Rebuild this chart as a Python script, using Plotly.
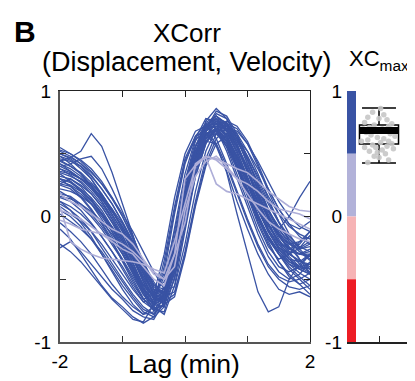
import plotly.graph_objects as go

# ---------------- data ----------------
lags = [-2.0, -1.833, -1.667, -1.5, -1.333, -1.167, -1.0, -0.833, -0.667, -0.5, -0.333, -0.167,
        0.0, 0.167, 0.333, 0.5, 0.667, 0.833, 1.0, 1.167, 1.333, 1.5, 1.667, 1.833, 2.0]

blue_curves = [
    # early / fast-decaying
    [0.30,0.24,0.16,0.06,-0.06,-0.20,-0.36,-0.52,-0.66,-0.62,-0.30,0.15,0.50,0.68,0.72,0.62,0.42,0.20,-0.02,-0.22,-0.38,-0.48,-0.52,-0.50,-0.45],
    [0.48,0.42,0.34,0.24,0.12,-0.02,-0.18,-0.36,-0.55,-0.64,-0.45,0.02,0.42,0.64,0.74,0.70,0.52,0.30,0.08,-0.14,-0.32,-0.44,-0.50,-0.46,-0.36],
    [0.12,0.05,-0.05,-0.16,-0.30,-0.44,-0.58,-0.70,-0.78,-0.72,-0.40,0.05,0.44,0.62,0.66,0.56,0.36,0.12,-0.10,-0.30,-0.46,-0.58,-0.62,-0.60,-0.64],
    [0.38,0.33,0.27,0.18,0.08,-0.04,-0.18,-0.34,-0.52,-0.66,-0.60,-0.22,0.28,0.60,0.74,0.70,0.55,0.34,0.12,-0.10,-0.28,-0.40,-0.44,-0.40,-0.30],
    [0.20,0.15,0.08,0.00,-0.10,-0.22,-0.35,-0.50,-0.65,-0.75,-0.70,-0.32,0.10,0.42,0.60,0.58,0.35,0.02,-0.30,-0.60,-0.76,-0.72,-0.50,-0.38,-0.30],
    [-0.22,-0.28,-0.36,-0.46,-0.56,-0.66,-0.74,-0.82,-0.84,-0.70,-0.35,0.08,0.46,0.64,0.68,0.58,0.40,0.18,-0.04,-0.24,-0.40,-0.50,-0.56,-0.58,-0.55],
    # typical
    [0.52,0.48,0.42,0.33,0.22,0.10,-0.05,-0.22,-0.45,-0.62,-0.58,-0.20,0.18,0.50,0.70,0.78,0.70,0.55,0.35,0.15,-0.02,-0.15,-0.25,-0.30,-0.28],
    [0.44,0.47,0.52,0.66,0.56,0.35,0.10,-0.15,-0.42,-0.62,-0.60,-0.22,0.20,0.52,0.72,0.80,0.72,0.56,0.38,0.18,0.00,-0.14,-0.22,-0.26,-0.22],
    [-0.10,-0.18,-0.30,-0.42,-0.55,-0.65,-0.72,-0.80,-0.85,-0.80,-0.62,-0.25,0.15,0.45,0.65,0.70,0.62,0.45,0.25,0.05,-0.10,-0.22,-0.30,-0.35,-0.40],
    [-0.25,-0.20,-0.28,-0.38,-0.48,-0.58,-0.66,-0.75,-0.80,-0.82,-0.68,-0.30,0.10,0.42,0.62,0.68,0.60,0.42,0.20,0.00,-0.15,-0.28,-0.38,-0.45,-0.50],
    [0.40,0.36,0.30,0.22,0.12,0.00,-0.15,-0.32,-0.52,-0.70,-0.72,-0.35,0.10,0.50,0.76,0.86,0.78,0.62,0.42,0.20,0.00,-0.15,-0.25,-0.30,-0.32],
    [0.45,0.40,0.34,0.25,0.15,0.02,-0.12,-0.30,-0.50,-0.66,-0.65,-0.28,0.15,0.48,0.70,0.76,0.68,0.52,0.30,0.10,-0.08,-0.10,0.00,0.15,0.28],
    [0.55,0.50,0.45,0.38,0.28,0.15,0.00,-0.18,-0.40,-0.58,-0.60,-0.25,0.20,0.55,0.75,0.80,0.74,0.60,0.45,0.25,0.05,-0.10,-0.20,-0.28,-0.32],
    [0.10,0.05,-0.02,-0.12,-0.25,-0.38,-0.50,-0.62,-0.72,-0.78,-0.70,-0.38,0.05,0.40,0.62,0.70,0.66,0.52,0.32,0.12,-0.05,-0.20,-0.32,-0.40,-0.45],
    [0.25,0.22,0.15,0.05,-0.05,-0.18,-0.30,-0.45,-0.60,-0.70,-0.65,-0.30,0.12,0.48,0.68,0.74,0.65,0.48,0.28,0.08,-0.10,-0.24,-0.34,-0.40,-0.42],
    [0.05,0.00,-0.08,-0.18,-0.30,-0.42,-0.55,-0.66,-0.76,-0.80,-0.72,-0.40,0.02,0.38,0.60,0.66,0.58,0.40,0.18,-0.02,-0.18,-0.30,-0.40,-0.48,-0.55],
    [0.32,0.30,0.25,0.18,0.08,-0.05,-0.20,-0.38,-0.56,-0.68,-0.62,-0.22,0.22,0.56,0.74,0.78,0.68,0.50,0.28,0.06,-0.12,-0.26,-0.36,-0.40,-0.38],
    [0.15,0.12,0.05,-0.05,-0.16,-0.28,-0.42,-0.56,-0.68,-0.74,-0.66,-0.30,0.12,0.46,0.66,0.70,0.60,0.42,0.22,0.02,-0.16,-0.30,-0.42,-0.50,-0.58],
    [0.50,0.46,0.40,0.32,0.22,0.10,-0.04,-0.20,-0.38,-0.55,-0.58,-0.30,0.12,0.48,0.72,0.80,0.74,0.58,0.36,0.16,-0.02,-0.16,-0.26,-0.30,-0.30],
    [0.38,0.35,0.30,0.22,0.14,0.04,-0.08,-0.24,-0.42,-0.58,-0.62,-0.32,0.14,0.50,0.72,0.74,0.64,0.46,0.25,0.05,-0.12,-0.25,-0.30,-0.25,-0.15],
    [-0.05,-0.12,-0.20,-0.30,-0.42,-0.54,-0.64,-0.72,-0.78,-0.76,-0.60,-0.24,0.18,0.48,0.66,0.68,0.58,0.40,0.20,0.00,-0.16,-0.28,-0.36,-0.42,-0.46],
    [0.18,0.16,0.10,0.02,-0.08,-0.20,-0.34,-0.48,-0.62,-0.70,-0.60,-0.24,0.18,0.52,0.70,0.72,0.60,0.40,0.18,-0.04,-0.22,-0.36,-0.46,-0.54,-0.62],
    [0.26,0.24,0.18,0.10,0.00,-0.12,-0.26,-0.42,-0.58,-0.68,-0.64,-0.28,0.16,0.50,0.70,0.76,0.70,0.56,0.36,0.14,-0.06,-0.20,-0.28,-0.30,-0.26],
    [0.12,0.08,0.02,-0.06,-0.16,-0.28,-0.40,-0.54,-0.66,-0.72,-0.62,-0.26,0.14,0.46,0.64,0.66,0.56,0.38,0.18,-0.02,-0.18,-0.30,-0.38,-0.42,-0.40],
    [0.40,0.42,0.46,0.48,0.38,0.22,0.04,-0.16,-0.38,-0.56,-0.60,-0.30,0.12,0.46,0.68,0.74,0.68,0.54,0.36,0.18,0.00,-0.14,-0.22,-0.20,-0.12],
    [0.30,0.27,0.21,0.13,0.03,-0.09,-0.24,-0.40,-0.57,-0.68,-0.64,-0.30,0.14,0.50,0.72,0.78,0.72,0.58,0.38,0.18,-0.02,-0.18,-0.30,-0.36,-0.38],
    # late / broad
    [0.30,0.28,0.22,0.15,0.05,-0.08,-0.22,-0.40,-0.58,-0.72,-0.78,-0.55,-0.10,0.32,0.58,0.72,0.70,0.60,0.45,0.28,0.10,-0.05,-0.18,-0.28,-0.35],
    [0.35,0.32,0.28,0.20,0.10,-0.02,-0.16,-0.32,-0.50,-0.64,-0.70,-0.45,0.00,0.40,0.64,0.76,0.74,0.64,0.48,0.30,0.12,-0.04,-0.16,-0.24,-0.28],
    [0.48,0.45,0.38,0.30,0.18,0.05,-0.10,-0.28,-0.48,-0.65,-0.68,-0.40,0.05,0.44,0.68,0.78,0.75,0.62,0.42,0.22,0.02,-0.14,-0.28,-0.38,-0.44],
    [0.42,0.38,0.32,0.24,0.14,0.02,-0.12,-0.28,-0.46,-0.62,-0.66,-0.36,0.08,0.46,0.70,0.82,0.78,0.64,0.46,0.26,0.06,-0.10,-0.22,-0.26,-0.24],
    [0.28,0.25,0.20,0.12,0.02,-0.10,-0.25,-0.42,-0.60,-0.74,-0.76,-0.48,-0.05,0.35,0.60,0.70,0.68,0.56,0.40,0.22,0.05,-0.08,-0.18,-0.25,-0.20],
    [0.53,0.50,0.44,0.36,0.26,0.14,0.00,-0.16,-0.36,-0.54,-0.62,-0.42,0.02,0.40,0.64,0.74,0.72,0.62,0.48,0.32,0.16,0.02,-0.08,-0.14,-0.18],
    [0.44,0.40,0.35,0.27,0.17,0.05,-0.10,-0.26,-0.45,-0.63,-0.70,-0.50,-0.08,0.32,0.58,0.70,0.72,0.66,0.52,0.34,0.14,-0.04,-0.20,-0.34,-0.46],
    [0.36,0.34,0.30,0.24,0.16,0.06,-0.06,-0.20,-0.36,-0.52,-0.64,-0.60,-0.30,0.10,0.42,0.62,0.70,0.68,0.58,0.44,0.28,0.12,0.00,-0.08,-0.12],
    [0.22,0.20,0.16,0.10,0.02,-0.08,-0.20,-0.34,-0.48,-0.60,-0.68,-0.62,-0.28,0.12,0.46,0.66,0.74,0.70,0.58,0.40,0.20,0.02,-0.14,-0.26,-0.34],
    [0.50,0.47,0.42,0.35,0.26,0.15,0.02,-0.12,-0.28,-0.44,-0.58,-0.56,-0.22,0.20,0.52,0.70,0.76,0.72,0.60,0.42,0.22,0.06,-0.06,-0.10,-0.04],
    [0.16,0.14,0.10,0.04,-0.04,-0.14,-0.26,-0.40,-0.54,-0.64,-0.70,-0.64,-0.32,0.08,0.40,0.58,0.64,0.62,0.52,0.38,0.22,0.06,-0.06,-0.16,-0.22],
    # irregular
    [0.42,0.36,0.30,0.26,0.18,0.06,-0.10,-0.26,-0.44,-0.60,-0.52,-0.10,0.34,0.62,0.78,0.76,0.62,0.46,0.30,0.12,-0.06,-0.22,-0.34,-0.42,-0.46],
    [0.26,0.30,0.24,0.14,0.02,-0.12,-0.28,-0.44,-0.60,-0.70,-0.56,-0.16,0.26,0.56,0.70,0.68,0.56,0.38,0.16,-0.06,-0.24,-0.34,-0.30,-0.20,-0.16],
    [0.08,0.02,-0.04,-0.12,-0.22,-0.34,-0.46,-0.58,-0.68,-0.66,-0.48,-0.12,0.28,0.56,0.70,0.72,0.64,0.48,0.30,0.10,-0.08,-0.20,-0.26,-0.22,-0.12],
    [0.46,0.44,0.40,0.30,0.16,0.04,-0.08,-0.22,-0.40,-0.58,-0.66,-0.44,0.00,0.42,0.70,0.84,0.80,0.66,0.46,0.24,0.04,-0.12,-0.24,-0.34,-0.42],
    [0.34,0.28,0.20,0.10,-0.02,-0.16,-0.30,-0.46,-0.62,-0.74,-0.70,-0.40,0.02,0.40,0.62,0.68,0.60,0.44,0.22,0.00,-0.20,-0.36,-0.48,-0.54,-0.50],
    [0.02,-0.04,-0.10,-0.18,-0.28,-0.40,-0.52,-0.64,-0.74,-0.78,-0.64,-0.28,0.12,0.44,0.64,0.70,0.62,0.46,0.26,0.06,-0.12,-0.26,-0.34,-0.36,-0.30],
]

lavender_curves = [
    [-0.03,-0.06,-0.10,-0.12,-0.14,-0.20,-0.26,-0.30,-0.40,-0.50,-0.55,-0.30,0.30,0.41,0.47,0.26,0.20,0.18,0.14,0.10,0.06,0.02,-0.02,-0.06,-0.10],
    [0.08,-0.20,-0.26,-0.30,-0.33,-0.34,-0.35,-0.36,-0.38,-0.42,-0.45,-0.20,0.10,0.40,0.48,0.46,0.42,0.38,0.35,0.28,0.20,0.14,0.08,0.05,0.04],
    [0.18,0.12,0.08,0.02,-0.04,-0.10,-0.14,-0.22,-0.34,-0.46,-0.50,-0.30,-0.05,0.42,0.48,0.45,0.38,0.30,0.26,0.20,0.12,0.06,0.04,0.02,-0.02],
    [0.05,0.02,-0.02,-0.08,-0.14,-0.18,-0.22,-0.28,-0.36,-0.44,-0.50,-0.40,0.05,0.32,0.44,0.48,0.40,0.30,0.18,0.06,-0.04,-0.10,-0.14,-0.18,-0.20],
]

# colour-scale strip for XCmax (segment base, height, colour)
strip_base = [0.5, 0.0, -0.5, -1.0]
strip_height = [0.5, 0.5, 0.5, 0.5]
strip_colors = ["#3953A4", "#B2B2D9", "#F6B3B5", "#ED1C24"]

# XCmax summary
xc_q1, xc_median, xc_q3 = 0.578, 0.685, 0.73
xc_lowfence, xc_highfence = 0.426, 0.865
xc_band = [0.657, 0.713]
xc_values = [0.86,0.83,0.81,0.79,0.78,0.77,0.75,0.74,0.73,0.72,0.71,0.70,0.70,0.69,0.68,0.68,
             0.67,0.66,0.65,0.64,0.63,0.62,0.61,0.60,0.60,0.59,0.58,0.57,0.56,0.55,0.55,0.54,
             0.53,0.52,0.51,0.50,0.48,0.47,0.45,0.43]
xc_jitter = [0.1,-0.4,0.3,-0.7,0.0,0.5,-0.9,0.8,-0.3,0.6,-0.6,0.2,-1.0,0.9,-0.2,0.4,
             -0.8,0.7,-0.5,1.0,-0.1,0.3,-0.7,0.6,-1.1,0.1,0.8,-0.4,0.5,-0.9,-0.2,0.9,
             0.2,-0.6,-0.1,0.4,-0.3,0.0,0.6,-0.7]

BLUE = "#3953A4"
LAV = "#AEAED8"
FONT = "Liberation Sans, Arial, sans-serif"

# page body has an 8px margin: figure is sized to fit the window exactly
OFF = 8
W, H = 415 - OFF, 381 - OFF


def px(x):
    return (x - OFF) / W


def py(y):
    return (H - (y - OFF)) / H


fig = go.Figure()

for c in blue_curves:
    fig.add_trace(go.Scatter(x=lags, y=c, mode="lines", line=dict(color=BLUE, width=1.3),
                             xaxis="x", yaxis="y", hoverinfo="skip"))
for c in lavender_curves:
    fig.add_trace(go.Scatter(x=lags, y=c, mode="lines", line=dict(color=LAV, width=1.6),
                             xaxis="x", yaxis="y", hoverinfo="skip"))

# strip
fig.add_trace(go.Bar(x=[0.28] * 4, y=strip_height, base=strip_base, width=0.5625,
                     marker=dict(color=strip_colors, line=dict(width=0)),
                     xaxis="x2", yaxis="y2", hoverinfo="skip"))

box_center = 2.0
box_width = 2.44
fig.add_trace(go.Box(x=[box_center], q1=[xc_q1], median=[xc_median], q3=[xc_q3],
                     lowerfence=[xc_lowfence], upperfence=[xc_highfence],
                     width=box_width, whiskerwidth=0.87, fillcolor="white",
                     line=dict(color="black", width=1.5), boxpoints=False,
                     xaxis="x2", yaxis="y2", hoverinfo="skip"))

fig.add_trace(go.Scatter(x=[box_center + j for j in xc_jitter], y=xc_values, mode="markers",
                         marker=dict(color="#C6C6C6", size=5.5, opacity=0.9),
                         xaxis="x2", yaxis="y2", hoverinfo="skip"))

fig.add_shape(type="rect", xref="x2", yref="y2",
              x0=box_center - box_width / 2, x1=box_center + box_width / 2,
              y0=xc_band[0], y1=xc_band[1], fillcolor="black", line=dict(width=0), layer="above")

xdom = [px(60), px(310)]
x2dom = [px(347), px(411)]
ydom = [py(342), py(91)]

fig.update_layout(
    template="none",
    width=W, height=H,
    margin=dict(l=0, r=0, t=0, b=0, pad=0),
    paper_bgcolor="white", plot_bgcolor="rgba(0,0,0,0)",
    showlegend=False, barmode="overlay",
    font=dict(family=FONT, color="black"),
    xaxis=dict(domain=xdom, range=[-2, 2], anchor="y", showgrid=False, zeroline=False,
               automargin=False,
               showline=True, linecolor="#555", linewidth=2,
               tickvals=[-2, 2], ticktext=["-2", "2"],
               ticks="inside", ticklen=6, tickcolor="#333", tickwidth=1.2,
               minor=dict(tickvals=[-1, 0, 1], ticks="inside", ticklen=6, tickcolor="#333",
                          tickwidth=1.2, showgrid=False),
               tickfont=dict(size=19), ticklabelstandoff=1),
    yaxis=dict(domain=ydom, range=[-1, 1], anchor="x", showgrid=False, zeroline=False,
               automargin=False,
               showline=True, linecolor="#555", linewidth=2,
               tickvals=[-1, 0, 1], ticktext=["-1", "0", "1"],
               ticks="inside", ticklen=6, tickcolor="#333", tickwidth=1.2,
               minor=dict(tickvals=[-0.5, 0.5], ticks="inside", ticklen=6, tickcolor="#333",
                          tickwidth=1.2, showgrid=False),
               tickfont=dict(size=19), ticklabelstandoff=3),
    xaxis3=dict(domain=xdom, range=[-2, 2], overlaying="x", anchor="y", side="top",
                automargin=False,
                showgrid=False, zeroline=False, showline=True, linecolor="#222", linewidth=1,
                tickvals=[-1, 0, 1], ticks="inside", ticklen=6, tickcolor="#222",
                showticklabels=False),
    yaxis3=dict(domain=ydom, range=[-1, 1], overlaying="y", anchor="x", side="right",
                automargin=False,
                showgrid=False, zeroline=False, showline=True, linecolor="#222", linewidth=1.2,
                tickvals=[-0.5, 0, 0.5], ticks="inside", ticklen=6, tickcolor="#222",
                showticklabels=False),
    xaxis2=dict(domain=x2dom, range=[0, 4], anchor="y2", showgrid=False, zeroline=False,
                automargin=False,
                showline=True, linecolor="#222", linewidth=1.5,
                tickvals=[2], ticks="inside", ticklen=6, tickcolor="#222",
                showticklabels=False),
    yaxis2=dict(domain=ydom, range=[-1, 1], anchor="x2", showgrid=False, zeroline=False,
                automargin=False,
                showline=False, tickvals=[-1, 0, 1], ticktext=["-1", "0", "1"],
                ticks="", tickfont=dict(size=19), ticklabelstandoff=4),
)

# empty traces so the overlay (frame) axes are drawn
fig.add_trace(go.Scatter(x=[], y=[], xaxis="x3", yaxis="y", hoverinfo="skip"))
fig.add_trace(go.Scatter(x=[], y=[], xaxis="x", yaxis="y3", hoverinfo="skip"))

ann = [
    dict(text="<b>B</b>", x=px(25), y=py(31), font=dict(size=30)),
    dict(text="XCorr", x=px(187), y=py(33), font=dict(size=26)),
    dict(text="(Displacement, Velocity)", x=px(187), y=py(62), font=dict(size=27)),
    dict(text="Lag (min)", x=px(184), y=py(364), font=dict(size=26.5)),
]
for a in ann:
    fig.add_annotation(xref="paper", yref="paper", showarrow=False, xanchor="center",
                       yanchor="middle", **a)
fig.add_annotation(text="XC<sub>max</sub>", xref="paper", yref="paper", showarrow=False,
                   x=px(347), y=py(60), xanchor="left", yanchor="middle",
                   font=dict(size=22))

fig.write_html("out.html")
